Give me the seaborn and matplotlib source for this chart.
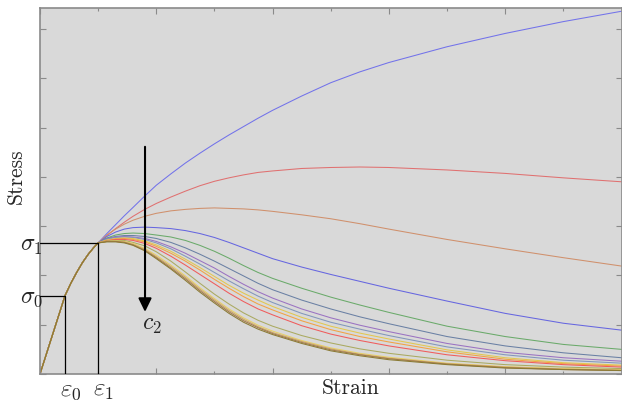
import numpy as np
import pandas as pd
import matplotlib
matplotlib.use("Agg")
import matplotlib.pyplot as plt
import seaborn as sns

# ---------------- data ----------------
eps0, eps1 = 0.43, 1.0
sig0, sig1 = 1.59, 2.66

rise_x = [0.0, 0.43, 0.53, 0.63, 0.73, 0.83, 0.92]
rise_y = [0.0, 1.59, 1.84, 2.06, 2.26, 2.43, 2.56]

strain = [1.0, 1.15, 1.3, 1.45, 1.6, 1.8, 2.0, 2.25, 2.5, 2.75, 3.0, 3.25, 3.5,
          3.75, 4.0, 4.5, 5.0, 5.5, 6.0, 7.0, 8.0, 9.0, 10.0]

stress_c01 = [2.66, 2.85, 3.03, 3.21, 3.38, 3.61, 3.83, 4.06, 4.28, 4.48, 4.67, 4.85, 5.02,
              5.19, 5.35, 5.64, 5.91, 6.13, 6.32, 6.64, 6.91, 7.15, 7.36]
stress_c02 = [2.66, 2.81, 2.95, 3.08, 3.20, 3.34, 3.46, 3.59, 3.71, 3.82, 3.91, 3.98, 4.04,
              4.09, 4.12, 4.17, 4.19, 4.20, 4.19, 4.14, 4.07, 3.98, 3.90]
stress_c03 = [2.66, 2.82, 2.94, 3.04, 3.12, 3.20, 3.26, 3.31, 3.34, 3.36, 3.37, 3.36, 3.35,
              3.33, 3.30, 3.23, 3.15, 3.05, 2.94, 2.73, 2.54, 2.36, 2.19]
stress_c04 = [2.66, 2.79, 2.88, 2.94, 2.97, 2.98, 2.97, 2.95, 2.91, 2.85, 2.77, 2.67, 2.56,
              2.45, 2.34, 2.17, 2.02, 1.88, 1.74, 1.48, 1.23, 1.03, 0.89]
stress_c05 = [2.66, 2.76, 2.82, 2.85, 2.86, 2.85, 2.82, 2.78, 2.71, 2.61, 2.49, 2.35, 2.20,
              2.06, 1.94, 1.74, 1.56, 1.40, 1.25, 0.97, 0.76, 0.60, 0.50]
stress_c06 = [2.66, 2.75, 2.79, 2.81, 2.81, 2.79, 2.75, 2.67, 2.56, 2.43, 2.29, 2.14, 1.99,
              1.84, 1.71, 1.50, 1.32, 1.16, 1.02, 0.76, 0.57, 0.43, 0.33]
stress_c07 = [2.66, 2.74, 2.78, 2.79, 2.78, 2.75, 2.69, 2.58, 2.45, 2.30, 2.15, 1.98, 1.82,
              1.67, 1.54, 1.32, 1.14, 0.99, 0.86, 0.62, 0.44, 0.33, 0.26]
stress_c08 = [2.66, 2.73, 2.77, 2.78, 2.77, 2.73, 2.66, 2.54, 2.39, 2.23, 2.06, 1.89, 1.73,
              1.58, 1.45, 1.23, 1.05, 0.91, 0.78, 0.55, 0.39, 0.28, 0.22]
stress_c09 = [2.66, 2.72, 2.75, 2.76, 2.75, 2.70, 2.62, 2.49, 2.33, 2.16, 1.98, 1.80, 1.64,
              1.50, 1.37, 1.15, 0.97, 0.83, 0.71, 0.49, 0.33, 0.23, 0.18]
stress_c10 = [2.66, 2.71, 2.74, 2.75, 2.73, 2.68, 2.59, 2.45, 2.29, 2.11, 1.92, 1.74, 1.57,
              1.42, 1.30, 1.08, 0.90, 0.76, 0.65, 0.45, 0.30, 0.21, 0.16]
stress_c11 = [2.66, 2.70, 2.73, 2.73, 2.71, 2.65, 2.55, 2.39, 2.21, 2.02, 1.83, 1.64, 1.47,
              1.32, 1.20, 0.98, 0.81, 0.68, 0.57, 0.39, 0.27, 0.19, 0.14]
stress_c12 = [2.66, 2.70, 2.71, 2.71, 2.67, 2.60, 2.48, 2.29, 2.07, 1.84, 1.62, 1.42, 1.24,
              1.09, 0.97, 0.78, 0.63, 0.51, 0.42, 0.28, 0.19, 0.14, 0.11]
stress_c13 = [2.66, 2.69, 2.70, 2.69, 2.65, 2.55, 2.41, 2.21, 1.99, 1.75, 1.53, 1.32, 1.14,
              0.99, 0.87, 0.68, 0.53, 0.42, 0.34, 0.22, 0.15, 0.11, 0.09]
stress_c14 = [2.66, 2.69, 2.69, 2.68, 2.63, 2.53, 2.38, 2.18, 1.96, 1.72, 1.50, 1.29, 1.11,
              0.96, 0.84, 0.66, 0.51, 0.40, 0.32, 0.21, 0.14, 0.10, 0.08]
stress_c15 = [2.66, 2.69, 2.69, 2.67, 2.62, 2.51, 2.36, 2.15, 1.93, 1.69, 1.47, 1.26, 1.08,
              0.94, 0.82, 0.64, 0.49, 0.39, 0.31, 0.20, 0.13, 0.09, 0.07]
stress_c16 = [2.66, 2.68, 2.68, 2.66, 2.61, 2.50, 2.34, 2.13, 1.90, 1.66, 1.44, 1.23, 1.05,
              0.91, 0.80, 0.62, 0.47, 0.37, 0.29, 0.19, 0.12, 0.09, 0.07]

curves = [stress_c01, stress_c02, stress_c03, stress_c04, stress_c05, stress_c06,
          stress_c07, stress_c08, stress_c09, stress_c10, stress_c11, stress_c12,
          stress_c13, stress_c14, stress_c15, stress_c16]
curve_names = [f"c{i+1:02d}" for i in range(len(curves))]

colors = ["#7272ea", "#e07070", "#d0906c", "#6666e0", "#6aaa6a", "#6a80a4",
          "#9a72c2", "#8296ba", "#e2c850", "#f2a244", "#f05c5c", "#aaaa60",
          "#e8d066", "#caa264", "#a27a4a", "#8a7a34"]

rows = []
for name, ys in zip(curve_names, curves):
    for x, y in zip(rise_x + strain, rise_y + ys):
        rows.append({"strain": x, "stress": y, "curve": name})
df = pd.DataFrame(rows)

# ---------------- style ----------------
sns.set_style("white", {"axes.facecolor": "#d9d9d9", "axes.edgecolor": "#8a8a8a"})
plt.rcParams["font.family"] = ["serif"]
plt.rcParams["font.serif"] = ["cmr10", "DejaVu Serif"]
plt.rcParams["mathtext.fontset"] = "cm"
plt.rcParams["axes.unicode_minus"] = False

fig = plt.figure(figsize=(6.22, 4.04), dpi=100)
ax = fig.add_axes([40 / 622, 30 / 404, 581.5 / 622, 365.7 / 404])

sns.lineplot(data=df, x="strain", y="stress", hue="curve", palette=colors,
             hue_order=curve_names, estimator=None, sort=False, legend=False,
             linewidth=0.75, ax=ax)

ax.set_xlim(0, 10)
ax.set_ylim(0, 7.42)

# guide lines
ax.plot([0, eps0, eps0], [sig0, sig0, 0], color="black", lw=0.9, zorder=5)
ax.plot([0, eps1, eps1], [sig1, sig1, 0], color="black", lw=0.9, zorder=5)

# arrow
ax.annotate("", xy=(1.806, 1.26), xytext=(1.806, 4.61),
            arrowprops=dict(arrowstyle="-|>,head_length=0.45,head_width=0.22",
                            lw=1.5, color="black", mutation_scale=18,
                            shrinkA=0, shrinkB=0), zorder=6)
ax.text(1.75, 1.0, r"$c_2$", fontsize=17, ha="left", va="center")

# ticks
ax.set_xticks(np.arange(0, 11, 2))
ax.set_xticks(np.arange(1, 11, 2), minor=True)
ax.set_yticks(np.arange(0, 8, 1))
ax.tick_params(which="major", direction="in", length=4, width=0.8, color="#8a8a8a",
               top=True, right=True, bottom=True, left=True,
               labelbottom=False, labelleft=False)
ax.tick_params(which="minor", direction="in", length=2, width=0.8, color="#8a8a8a",
               top=True, bottom=True)
for sp in ax.spines.values():
    sp.set_linewidth(1.2)

ax.set_xlabel("")
ax.set_ylabel("")
ax.text(0.535, -0.04, "Strain", transform=ax.transAxes, fontsize=15.5,
        ha="center", va="center")
ax.text(-0.042, 0.54, "Stress", transform=ax.transAxes, fontsize=15.5,
        ha="center", va="center", rotation=90)

# symbol labels
ax.annotate(r"$\varepsilon_0$", xy=(eps0, 0), xytext=(4, -12.5), textcoords="offset points",
            fontsize=18, ha="center", va="center", annotation_clip=False)
ax.annotate(r"$\varepsilon_1$", xy=(eps1, 0), xytext=(4, -12.5), textcoords="offset points",
            fontsize=18, ha="center", va="center", annotation_clip=False)
ax.annotate(r"$\sigma_1$", xy=(0, sig1), xytext=(2, -2), textcoords="offset points",
            fontsize=17, ha="right", va="center", annotation_clip=False)
ax.annotate(r"$\sigma_0$", xy=(0, sig0), xytext=(2, -2), textcoords="offset points",
            fontsize=17, ha="right", va="center", annotation_clip=False)

fig.savefig("out.png", dpi=100)
